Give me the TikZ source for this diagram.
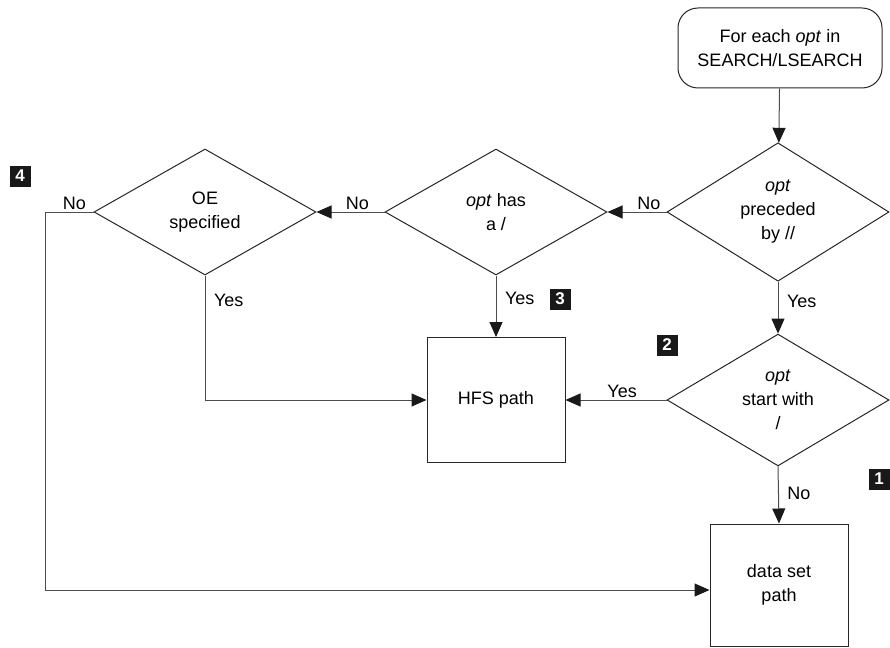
\documentclass[tikz,border=0pt]{standalone}
\usepackage{fontspec}
\setmainfont{Liberation Sans}
\usetikzlibrary{positioning,arrows.meta,shapes.geometric}

\tikzset{
  decision/.style={diamond,draw=black!85,line width=1pt,minimum width=222pt,
    minimum height=126pt,inner sep=0pt,align=center},
  procbox/.style={rectangle,draw=black!85,line width=1pt,minimum width=138pt,
    minimum height=125pt,align=center},
  startbox/.style={rectangle,rounded corners=20pt,draw=black!85,line width=1pt,
    minimum width=204pt,minimum height=80pt,align=center},
  flow/.style={-{Triangle[length=15pt,width=13pt,color=black!90]},draw=black!70,line width=1pt},
  lbl/.style={inner sep=1.5pt},
  badge/.style={fill=black!90,text=white,font=\fontsize{17}{17}\selectfont\bfseries,
    minimum width=21pt,minimum height=21pt,inner sep=0pt}
}

\begin{document}
\begin{tikzpicture}[x=1pt,y=-1pt,font=\fontsize{18}{24}\selectfont]
\useasboundingbox (0,0) rectangle (890,647);

% shapes
\node[startbox] (start) at (780,48) {For each \textit{opt} in\\SEARCH/LSEARCH};
\node[decision] (prec) at (778,212) {\textit{opt}\\preceded\\by //};
\node[decision] (slash) at (496,212) {\textit{opt} has\\a /};
\node[decision] (oe) at (205,212) {OE\\specified};
\node[decision] (begin) at (778,400) {\textit{opt}\\start with\\/};
\node[procbox] (hfs) at (496,400) {HFS path};
\node[procbox,minimum height=122pt] (dset) at (779,585) {data set\\path};

% connectors
\draw[flow] (start) -- (prec);
\draw[flow] (prec.west) -- (slash.east) node[lbl,pos=0.3,above] {No};
\draw[flow] (slash.west) -- (oe.east) node[lbl,pos=0.4,above] {No};
\draw[flow] (oe.west) -- ++(-48,0) node[lbl,pos=0.4,above] {No}
  |- ([yshift=-5pt]dset.west);
\draw[flow] (oe.south) |- (hfs.west) node[lbl,pos=0.1,right=7pt] {Yes};
\draw[flow] (slash.south) -- (hfs.north) node[lbl,pos=0.37,right=7pt] {Yes};
\draw[flow] (prec.south) -- (begin.north) node[lbl,pos=0.37,right=7pt] {Yes};
\draw[flow] (begin.west) -- (hfs.east) node[lbl,pos=0.44,above] {Yes};
\draw[flow] (begin.south) -- (dset.north) node[lbl,pos=0.48,right=7pt] {No};

% reference marks
\node[badge] (m4) at (20,176) {4};
\node[badge] (m3) at (560,299) {3};
\node[badge] (m2) at (667,345) {2};
\node[badge] (m1) at (879,479) {1};
\end{tikzpicture}
\end{document}
